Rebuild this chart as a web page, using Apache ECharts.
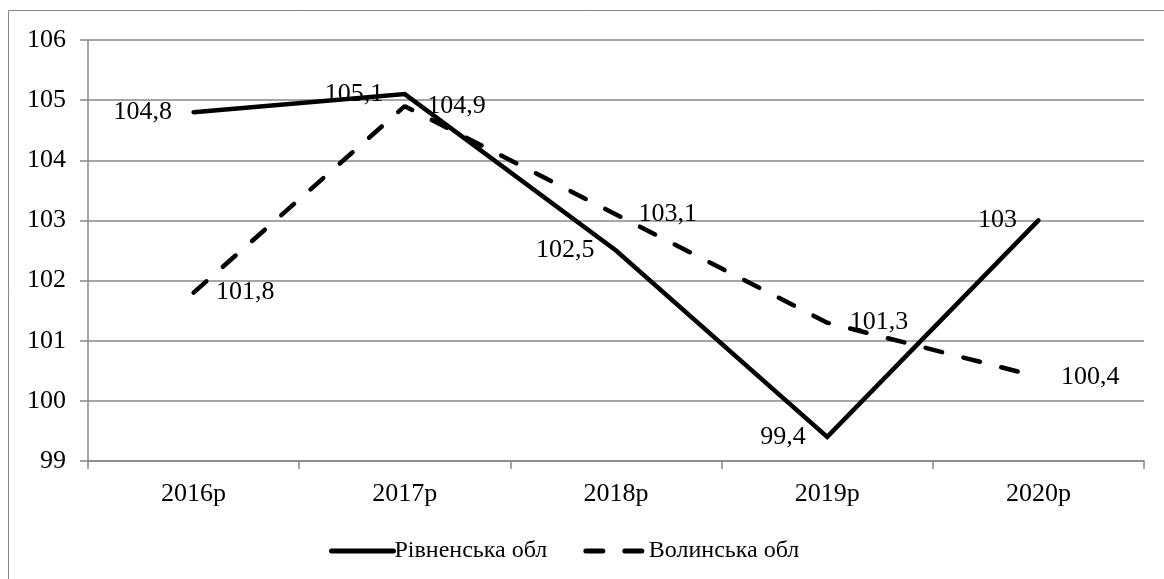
<!DOCTYPE html>
<html>
<head>
<meta charset="UTF-8">
<title>Рівненська та Волинська обл</title>
<script type="text/javascript" src="https://cdn.jsdelivr.net/npm/echarts@6/dist/echarts.min.js"></script>
<style>
  html, body { margin: 0; padding: 0; background: #fff; }
</style>
</head>
<body>
    <div id="main" style="width: 1164px;height:579px;"></div>
    <script type="text/javascript">
    var years = ['2016р', '2017р', '2018р', '2019р', '2020р'];
    var rivne = [104.8, 105.1, 102.5, 99.4, 103];
    var volyn = [101.8, 104.9, 103.1, 101.3, 100.4];
    var yTicks = [99, 100, 101, 102, 103, 104, 105, 106];

    var serif = "'Liberation Serif', 'Times New Roman', serif";
    var gray = '#888888';
    var fs = 26;

    function commaLabel(p) { // десяткова кома
        return String(p.value).replace('.', ',');
    }

    var myChart = echarts.init(document.getElementById('main'));

    var option = {
        animation: false,
        textStyle: { fontFamily: serif },
        graphic: [{
            type: 'rect',
            shape: { x: 8.5, y: 10.5, width: 1300, height: 700 },
            style: { fill: 'none', stroke: gray, lineWidth: 1 },
            silent: true
        }],
        legend: {
            left: 324,
            top: 534,
            itemWidth: 62,
            itemHeight: 14,
            itemGap: 36,
            lineStyle: { width: 5 },
            textStyle: { fontFamily: serif, fontSize: 24, color: '#000', padding: [0, 0, 0, -4] },
            data: ['Рівненська обл', 'Волинська обл']
        },
        grid: { left: 88, right: 20, top: 40, bottom: 118 },
        xAxis: {
            type: 'category',
            data: years,
            boundaryGap: true,
            axisLine: { lineStyle: { color: gray, width: 1.5 } },
            axisTick: { show: true, length: 8, lineStyle: { color: gray, width: 1.5 } },
            axisLabel: { fontFamily: serif, fontSize: fs, color: '#000', margin: 20 }
        },
        yAxis: {
            type: 'value',
            min: yTicks[0],
            max: yTicks[yTicks.length - 1],
            interval: 1,
            axisLine: { show: true, lineStyle: { color: gray, width: 1.5 } },
            axisTick: { show: true, length: 8, lineStyle: { color: gray, width: 1.5 } },
            axisLabel: { fontFamily: serif, fontSize: fs, color: '#000', margin: 22 },
            splitLine: { lineStyle: { color: gray, width: 1.5 } }
        },
        series: [{
            name: 'Рівненська обл',
            type: 'line',
            data: rivne,
            symbol: 'circle',
            symbolSize: 1,
            itemStyle: { color: 'rgba(0,0,0,0)' },
            lineStyle: { color: '#000', width: 4.5, cap: 'round', join: 'miter' },
            label: {
                show: true, position: 'left', distance: 21,
                fontFamily: serif, fontSize: fs, color: '#000',
                formatter: commaLabel
            },
            z: 3
        }, {
            name: 'Волинська обл',
            type: 'line',
            data: volyn,
            symbol: 'circle',
            symbolSize: 1,
            itemStyle: { color: 'rgba(0,0,0,0)' },
            lineStyle: { color: '#000', width: 4.5, type: [17, 22], cap: 'round' },
            label: {
                show: true, position: 'right', distance: 22,
                fontFamily: serif, fontSize: fs, color: '#000',
                formatter: commaLabel
            },
            z: 2
        }]
    };

    myChart.setOption(option);
    </script>
</body>
</html>
